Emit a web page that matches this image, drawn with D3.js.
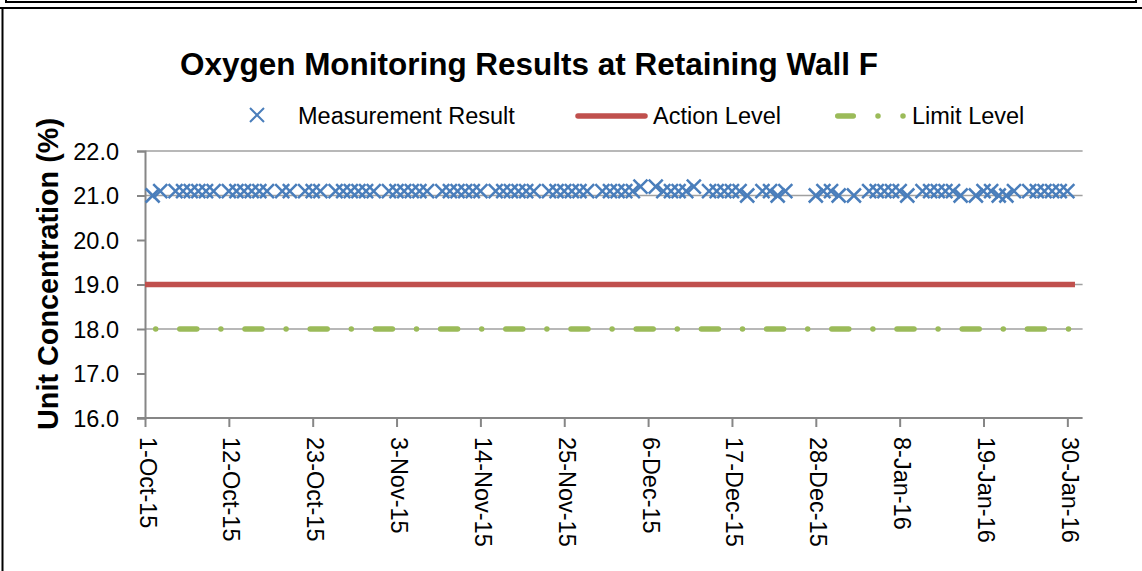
<!DOCTYPE html>
<html>
<head>
<meta charset="utf-8">
<script src="https://cdn.jsdelivr.net/npm/d3@7"></script>
<style>
  body { margin: 0; background: #fff; }
  svg { display: block; }
</style>
</head>
<body>
<div class="chart"></div>
<script>
// measurement days (Mon-Sat, no public holidays)
var measureDates = [
  "2015-10-02","2015-10-03","2015-10-05","2015-10-06","2015-10-07","2015-10-08","2015-10-09","2015-10-10",
  "2015-10-12","2015-10-13","2015-10-14","2015-10-15","2015-10-16","2015-10-17","2015-10-19","2015-10-20",
  "2015-10-22","2015-10-23","2015-10-24","2015-10-26","2015-10-27","2015-10-28","2015-10-29","2015-10-30","2015-10-31",
  "2015-11-02","2015-11-03","2015-11-04","2015-11-05","2015-11-06","2015-11-07","2015-11-09","2015-11-10",
  "2015-11-11","2015-11-12","2015-11-13","2015-11-14","2015-11-16","2015-11-17","2015-11-18","2015-11-19",
  "2015-11-20","2015-11-21","2015-11-23","2015-11-24","2015-11-25","2015-11-26","2015-11-27","2015-11-28","2015-11-30",
  "2015-12-01","2015-12-02","2015-12-03","2015-12-04","2015-12-05","2015-12-07","2015-12-08","2015-12-09",
  "2015-12-10","2015-12-11","2015-12-12","2015-12-14","2015-12-15","2015-12-16","2015-12-17","2015-12-18",
  "2015-12-19","2015-12-21","2015-12-22","2015-12-23","2015-12-24","2015-12-28","2015-12-29","2015-12-30","2015-12-31",
  "2016-01-02","2016-01-04","2016-01-05","2016-01-06","2016-01-07","2016-01-08","2016-01-09","2016-01-11",
  "2016-01-12","2016-01-13","2016-01-14","2016-01-15","2016-01-16","2016-01-18","2016-01-19","2016-01-20",
  "2016-01-21","2016-01-22","2016-01-23","2016-01-25","2016-01-26","2016-01-27","2016-01-28","2016-01-29","2016-01-30"
]
var measureValues = [
  21.0,21.1,21.1,21.1,21.1,21.1,21.1,21.1,
  21.1,21.1,21.1,21.1,21.1,21.1,21.1,21.1,
  21.1,21.1,21.1,21.1,21.1,21.1,21.1,21.1,21.1,
  21.1,21.1,21.1,21.1,21.1,21.1,21.1,21.1,
  21.1,21.1,21.1,21.1,21.1,21.1,21.1,21.1,
  21.1,21.1,21.1,21.1,21.1,21.1,21.1,21.1,21.1,
  21.1,21.1,21.1,21.1,21.2,21.2,21.1,21.1,
  21.1,21.1,21.2,21.1,21.1,21.1,21.1,21.1,
  21.0,21.1,21.1,21.0,21.1,21.0,21.1,21.1,21.0,
  21.0,21.1,21.1,21.1,21.1,21.1,21.0,21.1,
  21.1,21.1,21.1,21.1,21.0,21.0,21.1,21.1,
  21.0,21.0,21.1,21.1,21.1,21.1,21.1,21.1,21.1
]

var levelDates = ["2015-10-01", "2016-01-31"]
var actionLevel = [19.0, 19.0]
var limitLevel = [18.0, 18.0]

var axisDates = ["2015-10-01", "2016-02-01"]
var xTickDates = ["2015-10-01","2015-10-12","2015-10-23","2015-11-03","2015-11-14","2015-11-25",
  "2015-12-06","2015-12-17","2015-12-28","2016-01-08","2016-01-19","2016-01-30"]
var yTicks = [16, 17, 18, 19, 20, 21, 22]
var gridValues = [22, 21, 19, 18]

var width = 1142, height = 571
var font = "'Liberation Sans', Arial, sans-serif"
var axisGrey = "#868686"

var parseDate = d3.timeParse("%Y-%m-%d")
var formatDate = d3.timeFormat("%-d-%b-%y")

var svg = d3.select(".chart")
  .append("svg")
  .attr("width", width)
  .attr("height", height)

var x = d3.scaleTime()
  .domain(axisDates.map(parseDate))
  .range([145, 1082.6])

var y = d3.scaleLinear()
  .domain([16, 22])
  .range([418, 151])

// frame
svg.append("path")
  .attr("d", "M6,0V2H1136V0")
  .attr("fill", "none").attr("stroke", "#000").attr("stroke-width", 2)
svg.append("path")
  .attr("d", "M0,8H1142M2.5,8V571")
  .attr("fill", "none").attr("stroke", "#000").attr("stroke-width", 2)

// title
svg.append("text")
  .attr("x", 180).attr("y", 75)
  .attr("textLength", 698).attr("lengthAdjust", "spacingAndGlyphs")
  .style("font-family", font).style("font-weight", "bold").style("font-size", "31px")
  .text("Oxygen Monitoring Results at Retaining Wall F")

// legend
var legend = svg.append("g").style("font-family", font).style("font-size", "23.5px")
legend.append("path")
  .attr("d", "M250,108L264,122M250,122L264,108")
  .attr("stroke", "#4A7EBB").attr("stroke-width", 2)
legend.append("text").attr("x", 298).attr("y", 124).text("Measurement Result")
legend.append("line")
  .attr("x1", 578).attr("x2", 645).attr("y1", 116).attr("y2", 116)
  .attr("stroke", "#C0504D").attr("stroke-width", 5.5).attr("stroke-linecap", "round")
legend.append("text").attr("x", 653).attr("y", 124).text("Action Level")
legend.append("line")
  .attr("x1", 837.75).attr("x2", 906).attr("y1", 116).attr("y2", 116)
  .attr("stroke", "#9BBB59").attr("stroke-width", 5.5).attr("stroke-linecap", "round")
  .attr("stroke-dasharray", "15.5,24.75,0,25,0,100")
legend.append("text").attr("x", 912).attr("y", 124).text("Limit Level")

// grey lines
svg.append("g").selectAll("line")
  .data(gridValues)
  .enter().append("line")
  .attr("x1", 145).attr("x2", 1082.6)
  .attr("y1", function(d) { return y(d); })
  .attr("y2", function(d) { return y(d); })
  .attr("stroke", "#A0A0A0").attr("stroke-width", 1.5)

// y axis
var yAxis = svg.append("g")
  .attr("transform", "translate(145,0)")
  .call(d3.axisLeft(y).tickValues(yTicks).tickSize(8).tickPadding(18).tickFormat(d3.format(".1f")))
yAxis.select(".domain").attr("stroke", axisGrey).attr("stroke-width", 2)
yAxis.selectAll(".tick line").attr("stroke", axisGrey).attr("stroke-width", 2)
yAxis.selectAll(".tick text")
  .attr("dy", "0.36em")
  .style("font-family", font).style("font-size", "23.5px").attr("fill", "#000")

// x axis
var xAxis = svg.append("g")
  .attr("transform", "translate(0,418)")
  .call(d3.axisBottom(x).tickValues(xTickDates.map(parseDate)).tickSize(9).tickSizeOuter(0).tickFormat(formatDate))
xAxis.select(".domain").attr("stroke", axisGrey).attr("stroke-width", 2)
  .attr("d", "M137,0H1082.6")
xAxis.selectAll(".tick line").attr("stroke", axisGrey).attr("stroke-width", 2)
xAxis.selectAll(".tick text")
  .attr("transform", "translate(2.5,19) rotate(90)")
  .attr("x", 0).attr("y", 8.5).attr("dy", null)
  .attr("text-anchor", "start")
  .style("font-family", font).style("font-size", "23.5px").attr("fill", "#000")

// y axis title
svg.append("text")
  .attr("transform", "translate(58,274) rotate(-90)")
  .attr("text-anchor", "middle")
  .attr("textLength", 312).attr("lengthAdjust", "spacingAndGlyphs")
  .style("font-family", font).style("font-weight", "bold").style("font-size", "29px")
  .text("Unit Concentration (%)")

// level lines
var levelLine = d3.line()
  .x(function(d) { return x(d.date); })
  .y(function(d) { return y(d.value); })

var actionData = levelDates.map(function(d, i) { return {date: parseDate(d), value: actionLevel[i]}; })
var limitData = levelDates.map(function(d, i) { return {date: parseDate(d), value: limitLevel[i]}; })

svg.append("path")
  .datum(limitData)
  .attr("d", levelLine)
  .attr("fill", "none").attr("stroke", "#9BBB59").attr("stroke-width", 5.5)
  .attr("stroke-linecap", "round")
  .attr("stroke-dasharray", "0,24.1,17,24.1")
  .attr("stroke-dashoffset", -10.7)

svg.append("path")
  .datum(actionData)
  .attr("d", levelLine)
  .attr("fill", "none").attr("stroke", "#C0504D").attr("stroke-width", 5.5)

// measurement markers
var measured = measureDates.map(function(d, i) { return {date: parseDate(d), value: measureValues[i]}; })

svg.append("g")
  .selectAll("path")
  .data(measured)
  .enter().append("path")
  .attr("transform", function(d) { return "translate(" + x(d.date) + "," + y(d.value) + ")"; })
  .attr("d", "M-7,-7L7,7M-7,7L7,-7")
  .attr("stroke", "#4A7EBB").attr("stroke-width", 2.5)
  .attr("fill", "none")
</script>
</body>
</html>
